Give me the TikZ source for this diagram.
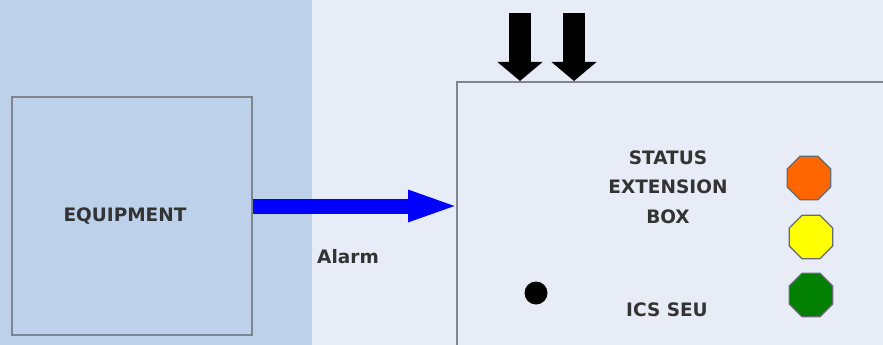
\documentclass[tikz,border=0pt]{standalone}
\usepackage{fontspec}
\setmainfont{DejaVu Sans}
\usetikzlibrary{arrows.meta,positioning,shapes.geometric}
\definecolor{panelblue}{HTML}{BED1EB}
\definecolor{bgpale}{HTML}{E8ECF7}
\definecolor{edgegray}{HTML}{80868F}
\definecolor{txtgray}{HTML}{333333}
\definecolor{lamporange}{HTML}{FF6600}
\definecolor{lampyellow}{HTML}{FFFF00}
\definecolor{lampgreen}{HTML}{007F00}
\begin{document}
\begin{tikzpicture}[x=1pt,y=-1pt,font=\fontsize{18.5}{29.5}\selectfont\bfseries]
\tikzstyle{box}=[draw=edgegray,line width=1.8pt,inner sep=0pt]
\tikzstyle{lamp}=[regular polygon,regular polygon sides=8,draw=edgegray!80!black,line width=1.2pt,minimum size=47pt,inner sep=0pt]
\tikzstyle{lbl}=[text=txtgray,align=center]
\useasboundingbox (0,0) rectangle (883,345);
% background panels
\fill[bgpale] (0,0) rectangle (883,345);
\fill[panelblue] (0,0) rectangle (312,345);
\node[box,fill=panelblue,minimum width=240pt,minimum height=238pt] (eq) at (132,216) {};
\node[lbl] at ([xshift=-7pt]eq.center) {EQUIPMENT};
\node[box,fill=bgpale,minimum width=504pt,minimum height=339pt,anchor=north west] (seb) at (456,81) {};
\node[lbl] (stat) at (668,187) {STATUS\\EXTENSION\\BOX};
\node[lbl] (ics) at (667,310) {ICS SEU};
\node[lamp,fill=lamporange] (red) at (809,178) {};
\node[lamp,fill=lampyellow] (yel) at (811,237) {};
\node[lamp,fill=lampgreen] (grn) at (811,295) {};
\fill (536,293) circle (11.5);
% alarm line
\draw[blue,line width=15pt,-{Triangle[length=52pt,width=28pt]}] ([yshift=10pt]eq.east) -- ([yshift=10pt,xshift=4pt]eq.east -| seb.west);
\node[lbl] (alarm) at (348,257) {Alarm};
% inputs from above
\coordinate (in1) at (520,13);
\coordinate (in2) at (574,13);
\draw[line width=22pt,-{Triangle[length=19pt,width=44pt]}] (in1) -- (in1 |- seb.north);
\draw[line width=22pt,-{Triangle[length=19pt,width=44pt]}] (in2) -- (in2 |- seb.north);
\end{tikzpicture}
\end{document}
